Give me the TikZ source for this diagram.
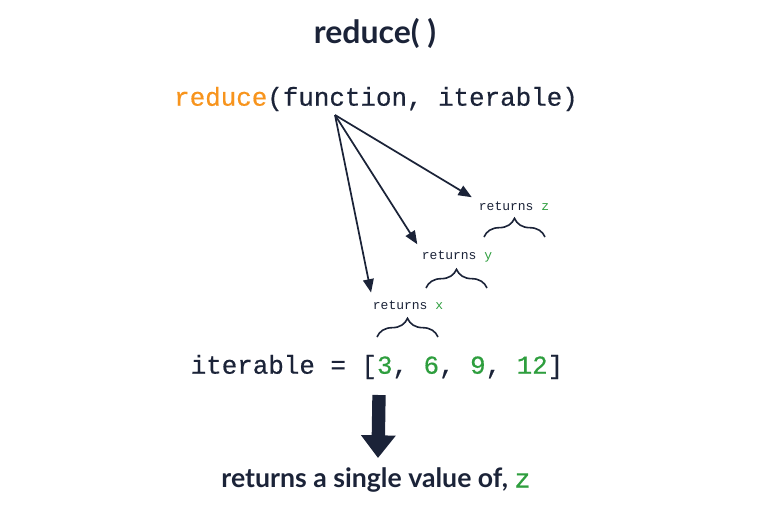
\documentclass[tikz,border=0pt]{standalone}
\usepackage{fontspec}
\setmainfont{Lato}
\setmonofont{Liberation Mono}
\newfontfamily\codefont{Liberation Mono}[FakeBold=0.5]
\usetikzlibrary{arrows.meta,decorations.pathreplacing,calc,positioning}
\definecolor{navy}{HTML}{1B2338}
\definecolor{orng}{HTML}{F7941D}
\definecolor{grn}{HTML}{2E9E3E}

\begin{document}
\begin{tikzpicture}[x=0.75pt,y=-0.75pt, every node/.style={text=navy},
		code/.style={font=\codefont\fontsize{19.4}{22}\selectfont, inner sep=0},
		ret/.style={font=\ttfamily\fontsize{9.75}{11}\selectfont, inner sep=0},
		brc/.style={draw=navy, line width=1.2pt, decorate, decoration={brace, amplitude=14pt}},
		ptr/.style={draw=navy, line width=1.3pt, shorten >=6pt, -{Triangle[length=10pt,width=8pt]}},
		bigarr/.style={draw=navy, line width=10pt, -{Triangle[length=17pt,width=25pt]}}]
		\useasboundingbox (0,0) rectangle (762,512);
		\node [font=\bfseries\fontsize{24}{28}\selectfont](title) at (375,33) {reduce( )};
		\node [code](call) at (376,99) {\textcolor{orng}{reduce}(function, iterable)};
		\coordinate (src) at (335,115);
		\node [ret](rz) at (514,206) {returns \textcolor{grn}{z}};
		\node [ret](ry) at (457,257) {returns \textcolor{grn}{y}};
		\node [ret](rx) at (408,305) {returns \textcolor{grn}{x}};
		\draw [ptr] (src) -- (rz.north west);
		\draw [ptr] (src) -- (ry.north west);
		\draw [ptr] (src) -- (rx.north west);
		\draw [brc] ($(rz)+(-30,31)$) -- ($(rz)+(31,31)$);
		\draw [brc] ($(ry)+(-31,31)$) -- ($(ry)+(30,31)$);
		\draw [brc] ($(rx)+(-31,32)$) -- ($(rx)+(30,32)$);
		\node [code](it) at (377,367) {iterable = [\textcolor{grn}{3}, \textcolor{grn}{6}, \textcolor{grn}{9}, \textcolor{grn}{12}]};
		\node [font=\bfseries\fontsize{20}{24}\selectfont](res) at (376,480) {returns a single value of, \textcolor{grn}{\mdseries\codefont z}};
		\draw [bigarr] ($(it)+(2,28)$) -- ($(res)+(2,-22)$);
\end{tikzpicture}
\end{document}
